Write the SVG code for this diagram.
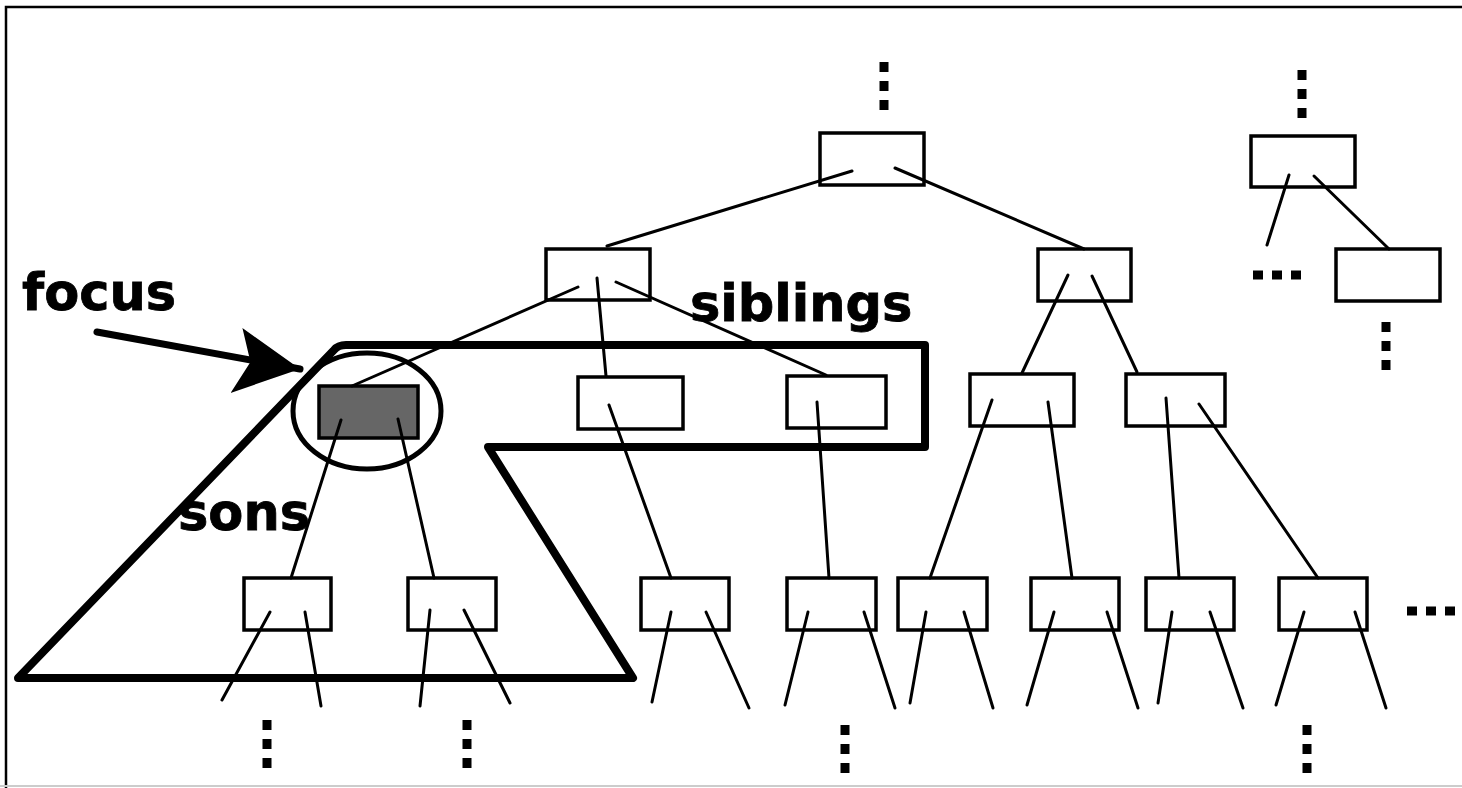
<svg xmlns="http://www.w3.org/2000/svg" width="1462" height="788" viewBox="0 0 1462 788">
<style>
.node{fill:#fff;stroke:#000;stroke-width:3.5}
.focus{fill:#666;stroke:#000;stroke-width:3.5}
.edge{stroke:#000;stroke-width:3;fill:none;stroke-linecap:round}
.dots{stroke:#000;stroke-width:9;stroke-dasharray:10 9;fill:none}
.lbl{font-family:"DejaVu Sans","Liberation Sans",sans-serif;font-weight:bold;font-size:51px;fill:#000;stroke:#000;stroke-width:0.8}
</style>
<defs>
<marker id="head" viewBox="0 0 70 70" refX="64" refY="30" markerWidth="70" markerHeight="70" markerUnits="userSpaceOnUse" orient="auto">
<path d="M0,0 L64,30 L0,66 L14,32 Z" fill="#000"/>
</marker>
</defs>
<rect x="0" y="0" width="1462" height="788" fill="#fff"/>
<path d="M6,788 V7 H1462" fill="none" stroke="#000" stroke-width="2.5"/>
<line x1="0" y1="786" x2="1462" y2="786" stroke="#ccc" stroke-width="2"/>

<g id="root"><rect class="node" x="820" y="133" width="104" height="52"/></g>
<g id="rroot"><rect class="node" x="1251" y="136" width="104" height="51"/></g>
<g id="n-a"><rect class="node" x="546" y="249" width="104" height="51"/></g>
<g id="n-b"><rect class="node" x="1038" y="249" width="93" height="52"/></g>
<g id="n-c"><rect class="node" x="1336" y="249" width="104" height="52"/></g>
<g id="n-focus"><rect class="focus" x="319" y="386" width="99" height="52"/></g>
<g id="n-d"><rect class="node" x="578" y="377" width="105" height="52"/></g>
<g id="n-e"><rect class="node" x="787" y="376" width="99" height="52"/></g>
<g id="n-f"><rect class="node" x="970" y="374" width="104" height="52"/></g>
<g id="n-g"><rect class="node" x="1126" y="374" width="99" height="52"/></g>
<g id="n-h1"><rect class="node" x="244" y="578" width="87" height="52"/></g>
<g id="n-h2"><rect class="node" x="408" y="578" width="88" height="52"/></g>
<g id="n-h3"><rect class="node" x="641" y="578" width="88" height="52"/></g>
<g id="n-h4"><rect class="node" x="787" y="578" width="89" height="52"/></g>
<g id="n-h5"><rect class="node" x="898" y="578" width="89" height="52"/></g>
<g id="n-h6"><rect class="node" x="1031" y="578" width="88" height="52"/></g>
<g id="n-h7"><rect class="node" x="1146" y="578" width="88" height="52"/></g>
<g id="n-h8"><rect class="node" x="1279" y="578" width="88" height="52"/></g>

<g id="connectors">
<line class="edge" x1="852" y1="171" x2="607" y2="246"/>
<line class="edge" x1="895" y1="168" x2="1084" y2="249"/>
<line class="edge" x1="1289" y1="175" x2="1267" y2="245"/>
<line class="edge" x1="1314" y1="176" x2="1389" y2="249"/>
<line class="edge" x1="578" y1="287" x2="352" y2="386"/>
<line class="edge" x1="597" y1="278" x2="606" y2="376"/>
<line class="edge" x1="616" y1="282" x2="826" y2="375"/>
<line class="edge" x1="1068" y1="275" x2="1022" y2="373"/>
<line class="edge" x1="1092" y1="276" x2="1137" y2="372"/>
<line class="edge" x1="341" y1="420" x2="291" y2="578"/>
<line class="edge" x1="398" y1="419" x2="434" y2="578"/>
<line class="edge" x1="609" y1="405" x2="671" y2="578"/>
<line class="edge" x1="817" y1="402" x2="829" y2="578"/>
<line class="edge" x1="992" y1="400" x2="930" y2="578"/>
<line class="edge" x1="1048" y1="402" x2="1072" y2="578"/>
<line class="edge" x1="1166" y1="398" x2="1179" y2="578"/>
<line class="edge" x1="1199" y1="404" x2="1318" y2="578"/>
<line class="edge" x1="270" y1="612" x2="222" y2="700"/>
<line class="edge" x1="305" y1="612" x2="321" y2="706"/>
<line class="edge" x1="430" y1="610" x2="420" y2="706"/>
<line class="edge" x1="464" y1="610" x2="510" y2="703"/>
<line class="edge" x1="671" y1="612" x2="652" y2="702"/>
<line class="edge" x1="706" y1="612" x2="749" y2="708"/>
<line class="edge" x1="808" y1="612" x2="785" y2="705"/>
<line class="edge" x1="864" y1="612" x2="895" y2="708"/>
<line class="edge" x1="926" y1="612" x2="910" y2="703"/>
<line class="edge" x1="964" y1="612" x2="993" y2="708"/>
<line class="edge" x1="1054" y1="612" x2="1027" y2="705"/>
<line class="edge" x1="1107" y1="612" x2="1138" y2="708"/>
<line class="edge" x1="1172" y1="612" x2="1158" y2="703"/>
<line class="edge" x1="1210" y1="612" x2="1243" y2="708"/>
<line class="edge" x1="1304" y1="612" x2="1276" y2="705"/>
<line class="edge" x1="1355" y1="612" x2="1386" y2="708"/>
</g>

<g id="ellipsis">
<line class="dots" x1="884" y1="62" x2="884" y2="110"/>
<line class="dots" x1="1302" y1="70" x2="1302" y2="118"/>
<line class="dots" x1="1386" y1="322" x2="1386" y2="370"/>
<line class="dots" x1="267" y1="720" x2="267" y2="768"/>
<line class="dots" x1="467" y1="720" x2="467" y2="768"/>
<line class="dots" x1="845" y1="725" x2="845" y2="773"/>
<line class="dots" x1="1307" y1="725" x2="1307" y2="773"/>
<line class="dots" x1="1253" y1="275" x2="1306" y2="275"/>
<line class="dots" x1="1407" y1="611" x2="1460" y2="611"/>
</g>

<g id="focus-region">
<path d="M18,678 L334,350 Q338,345 346,345 L925,345 L925,447 L488,447 L633,678 Z" fill="none" stroke="#000" stroke-width="8" stroke-linejoin="round"/>
<ellipse cx="367" cy="411" rx="74" ry="58" fill="none" stroke="#000" stroke-width="5"/>
</g>

<g id="focus-arrow">
<line x1="97" y1="332" x2="300" y2="369" stroke="#000" stroke-width="7" stroke-linecap="round" marker-end="url(#head)"/>
</g>

<g id="labels">
<text class="lbl" x="22" y="310">focus</text>
<text class="lbl" x="690" y="321">siblings</text>
<text class="lbl" x="178" y="530">sons</text>
</g>
</svg>
